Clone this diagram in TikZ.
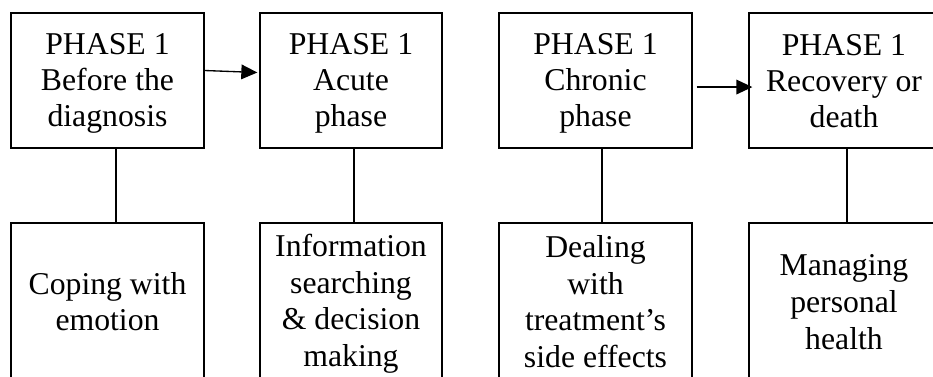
\documentclass[tikz,border=0pt]{standalone}
\usepackage{fontspec}
\setmainfont{Liberation Serif}
\usetikzlibrary{arrows.meta}
\newcommand\tstrut{\rule{0pt}{20pt}}
\newcommand\bstrut{\rule[-4.2pt]{0pt}{4.2pt}}
\newcommand\ltstrut{\rule{0pt}{19.5pt}}
\newcommand\lbstrut{\rule[-3.75pt]{0pt}{3.75pt}}
\begin{document}
\begin{tikzpicture}[x=0.75pt,y=-0.75pt,
  phasebox/.style={draw,line width=1pt,inner sep=0pt,align=center,
    font=\fontsize{23.8}{27}\selectfont,minimum height=101.25pt},
  taskbox/.style={draw,line width=1pt,inner sep=0pt,align=center,
    font=\fontsize{23.8}{27.5}\selectfont,minimum height=118.5pt},
  link/.style={line width=0.8pt},
  flow/.style={line width=1pt,-{Triangle[length=12pt,width=11pt]}}]
\useasboundingbox (0,0) rectangle (933,376);
\clip (0,0) rectangle (933,376);
% top row
\node[phasebox,minimum width=144.75pt] (t1) at (107.5,80.5) {\tstrut PHASE 1\\Before the\\diagnosis\bstrut};
\node[phasebox,minimum width=136.5pt] (t2) at (351,80.5) {\tstrut PHASE 1\\Acute\\phase\bstrut};
\node[phasebox,minimum width=144.75pt] (t3) at (595.5,80.5) {\tstrut PHASE 1\\Chronic\\phase\bstrut};
\node[phasebox,minimum width=142.5pt] (t4) at (844,80.5) {\tstrut PHASE 1\\Recovery or\\death\bstrut};
% bottom row
\node[taskbox,minimum width=144.75pt] (b1) at (107.5,302) {\ltstrut Coping with\\emotion\lbstrut};
\node[taskbox,minimum width=136.5pt] (b2) at (351,302) {\ltstrut Information\\searching\\\& decision\\making\lbstrut};
\node[taskbox,minimum width=144.75pt] (b3) at (595.5,302) {\ltstrut Dealing\\with\\treatment’s\\side effects\lbstrut};
\node[taskbox,minimum width=142.5pt] (b4) at (844,302) {\ltstrut Managing\\personal\\health\lbstrut};
% arrows
\draw[flow] ([yshift=7.5pt]t1.east) -- ([xshift=-1.5pt,yshift=6pt]t2.west);
\draw[flow] ([xshift=3pt,yshift=-4.9pt]t3.east) -- ([xshift=3pt,yshift=-4.9pt]t4.west);
% vertical links
\draw[link] (t1.south -| 116,0) -- (b1.north -| 116,0);
\draw[link] (t2.south -| 354,0) -- (b2.north -| 354,0);
\draw[link] (t3.south -| 602,0) -- (b3.north -| 602,0);
\draw[link] (t4.south -| 847,0) -- (b4.north -| 847,0);
\end{tikzpicture}
\end{document}
